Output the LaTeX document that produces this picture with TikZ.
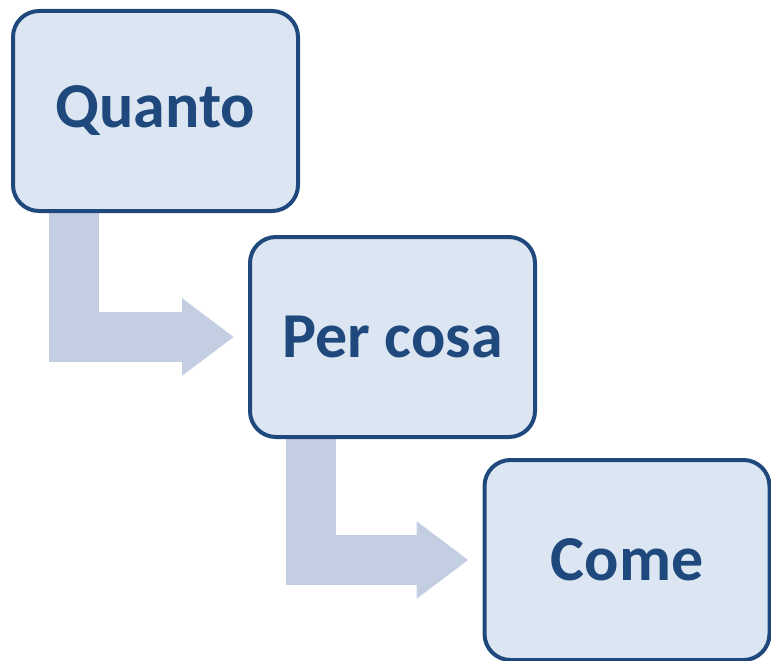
\documentclass[tikz,border=0pt]{standalone}
\usepackage{fontspec}
\setmainfont{Carlito}
\usetikzlibrary{arrows.meta,backgrounds}

\definecolor{boxblue}{RGB}{31,73,125}
\definecolor{boxfill}{RGB}{220,230,242}
\definecolor{bandblue}{RGB}{195,206,226}

\tikzstyle{step box}=[draw=boxblue,fill=boxfill,line width=4pt,rounded corners=26pt,minimum width=285pt,minimum height=200pt,inner sep=0pt,text=boxblue,font=\fontsize{64}{72}\selectfont\bfseries]
\tikzstyle{bent band}=[draw=bandblue,line width=50pt,line join=miter,-{Triangle[length=52pt,width=74pt]},shorten >=14pt]

\begin{document}
\begin{tikzpicture}[x=1pt,y=-1pt]
	\useasboundingbox (0,0) rectangle (771,661);
	
	\node[step box] (quanto) at (155.5,111) {Quanto};
	\node[step box] (percosa) at (392.5,337) {Per cosa};
	\node[step box] (come) at (627,560) {Come};
	
	\begin{scope}[on background layer]
		\draw[bent band] ([xshift=-81.5pt]quanto.south) |- (percosa.west);
		\draw[bent band] ([xshift=-81.5pt]percosa.south) |- (come.west);
	\end{scope}
\end{tikzpicture}
\end{document}
